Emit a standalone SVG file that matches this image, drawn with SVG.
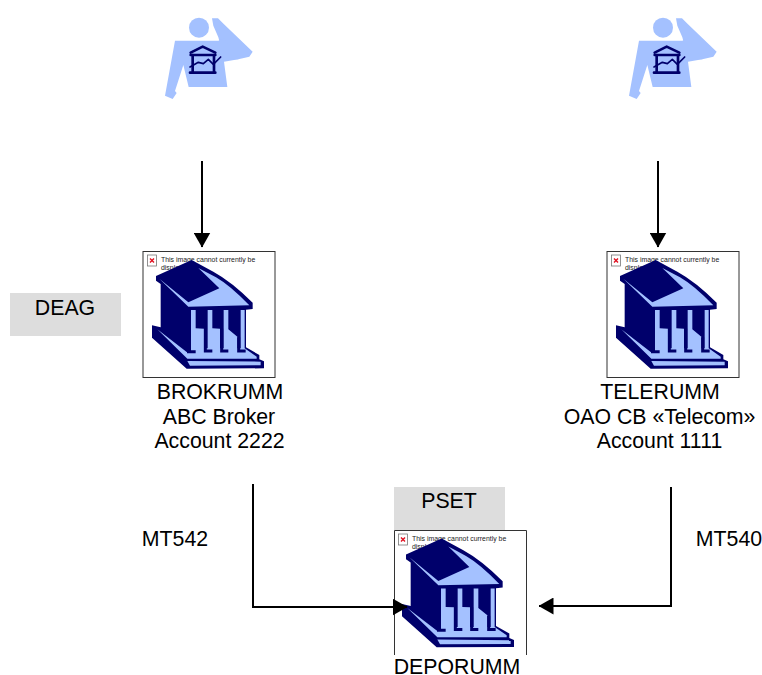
<svg xmlns="http://www.w3.org/2000/svg" width="762" height="675" viewBox="0 0 762 675">
<style>
text{font-family:"Liberation Sans",Arial,sans-serif;fill:#000}
.l{font-size:21.3px;text-anchor:middle}
.ph{font-size:6.9px;fill:#222}
.box{fill:#fff;stroke:#333;stroke-width:1}
.tag{fill:#ddd}
.c{fill:none;stroke:#000;stroke-width:2}
.dk{fill:#00006b}
.lt{fill:#a4c1ff}
</style>
<defs>
<marker id="a" viewBox="0 0 15 17" refX="14.500" refY="8.500" markerWidth="15" markerHeight="17" markerUnits="userSpaceOnUse" orient="auto"><path d="M0 0L15 8.500L0 17Z" fill="#000"/></marker>
<g id="bank" transform="translate(130,240) scale(.33333)">
<path class="dk" d="M78 108L185 60L250 95Q305 125 368 188V207L348 209V322L388 345V358L402 364V385L170 386L66 293V256L92 262V132L78 122Z"/>
<path class="lt" d="M88 116L175 200L358 196Q300 136 258 112Q228 96 205 84L268 145L175 187Z"/>
<path class="lt" d="M183 210H197V265L222 266V325H233V210H247V265L270 266V325H281V210H295V268L322 290V325H332V210H344V325L380 350V356L172 356L82 268L170 336H183Z"/>
<path class="lt" d="M172 363L392 365V376L180 377Z"/>
<path fill="none" stroke="#00006b" stroke-width="9" d="M171 335H197M226 266V333H247M275 266V333H295M326 292V333H347"/>
</g>
<g id="person" transform="translate(150,5) scale(.33333)">
<circle class="lt" cx="147" cy="68" r="30"/>
<path class="lt" d="M186 40H204L222 58L308 140L298 155L265 163H222L205 97L190 62Z"/>
<path class="lt" d="M75 107H205L222 100L265 163L222 170L232 246L116 246L100 180L75 258L80 264L68 282L45 272Z"/>
<g fill="none" stroke="#00006b" stroke-linecap="round" stroke-linejoin="round">
<path stroke-width="8" d="M122 143L158 125L196 143"/>
<path stroke-width="8" d="M122 150H196M120 203H196"/>
<path stroke-width="8" d="M128 150V200M192 150V200"/>
<path stroke-width="5" d="M120 186L145 172L160 176L175 163L190 178L212 156"/>
</g>
</g>
<g id="ph"><rect x="147.500" y="255" width="9" height="11" fill="#fff" stroke="#777" stroke-width=".8"/><path d="M150 258.500L154 262.500M154 258.500L150 262.500" stroke="#e01020" stroke-width="1.400"/></g>
</defs>
<g id="client-left"><use href="#person"/></g>
<g id="client-right"><use href="#person" x="464"/></g>
<g id="deag"><rect class="tag" x="10" y="293" width="111" height="43"/><text class="l" x="65" y="315">DEAG</text></g>
<g id="pset"><rect class="tag" x="394" y="487" width="111" height="43"/><text class="l" x="449" y="508">PSET</text></g>
<g id="brokrumm">
<rect class="box" x="143" y="251.500" width="132" height="126"/>
<use href="#ph"/>
<text class="ph" x="161" y="262">This image cannot currently be</text>
<text class="ph" x="161" y="270">displayed.</text>
<use href="#bank"/>
<text class="l" x="220" y="399">BROKRUMM</text>
<text class="l" x="219" y="424">ABC Broker</text>
<text class="l" x="219.500" y="448">Account 2222</text>
</g>
<g id="telerumm">
<rect class="box" x="607" y="251.500" width="132" height="126"/>
<use href="#ph" x="464"/>
<text class="ph" x="625" y="262">This image cannot currently be</text>
<text class="ph" x="625" y="270">displayed.</text>
<use href="#bank" x="464"/>
<text class="l" x="660" y="399">TELERUMM</text>
<text class="l" x="659.500" y="424">OAO CB «Telecom»</text>
<text class="l" x="659.500" y="448">Account 1111</text>
</g>
<g id="deporumm">
<path d="M394.500 655V530.500H526.500V655" fill="#fff" stroke="#333"/>
<use href="#ph" x="251" y="279"/>
<text class="ph" x="412" y="541">This image cannot currently be</text>
<text class="ph" x="412" y="549">displayed.</text>
<use href="#bank" x="250" y="278.600"/>
<text class="l" x="457" y="674">DEPORUMM</text>
</g>
<text class="l" x="175" y="546">MT542</text>
<text class="l" x="729" y="546">MT540</text>
<g id="connectors">
<path class="c" marker-end="url(#a)" d="M202 161V247"/>
<path class="c" marker-end="url(#a)" d="M658 161V247"/>
<path class="c" marker-end="url(#a)" d="M253 484V607H407"/>
<path class="c" marker-end="url(#a)" d="M671 487V606H539"/>
</g>
</svg>
